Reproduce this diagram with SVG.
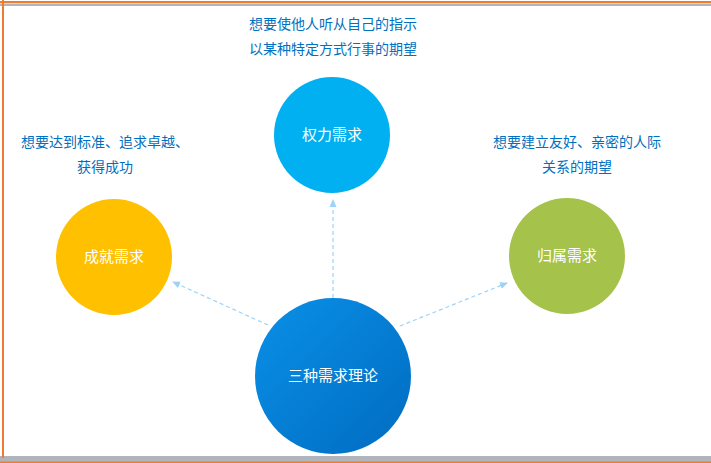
<svg xmlns="http://www.w3.org/2000/svg" width="711" height="463" viewBox="0 0 711 463">
<style>
.t{font-family:"Noto Sans CJK SC","Liberation Sans",sans-serif;font-size:14px;fill:#0070c0;text-anchor:middle}
.w{font-family:"Noto Sans CJK SC","Liberation Sans",sans-serif;font-size:15px;fill:#fff;text-anchor:middle}
.c{stroke:#9dd3f7;stroke-width:1.2;stroke-dasharray:4 3;fill:none;marker-end:url(#a)}
</style>
<defs>
<marker id="a" markerWidth="8" markerHeight="8" refX="7" refY="4" orient="auto" markerUnits="userSpaceOnUse"><path d="M0,0.5 L8,4 L0,7.5z" fill="#9dd3f7"/></marker>
<linearGradient id="g" x1="0" y1="0" x2="1" y2="1"><stop offset="0" stop-color="#0a90e8"/><stop offset="1" stop-color="#006cc0"/></linearGradient>
</defs>
<rect width="711" height="463" fill="#fff"/>
<rect x="0" y="3.5" width="711" height="2.5" fill="#b0b4bc"/>
<rect x="0" y="1" width="711" height="2" fill="#ef7d31"/>
<rect x="0" y="456" width="711" height="6" fill="#b0b4bc"/>
<rect x="0" y="461.5" width="711" height="1.5" fill="#ef7d31"/>
<rect x="2" y="0" width="2" height="458" fill="#ef7d31"/>
<g id="connectors">
<path class="c" d="M333,298 V200"/>
<path class="c" d="M268,325 L173,282"/>
<path class="c" d="M400,326 L507,283"/>
</g>
<g id="power"><circle cx="332" cy="135" r="58" fill="#00b0f0"/><text class="w" x="332" y="140">权力需求</text></g>
<g id="achieve"><circle cx="114" cy="257" r="58" fill="#ffc000"/><text class="w" x="114" y="262">成就需求</text></g>
<g id="belong"><circle cx="567" cy="256" r="58" fill="#a5c24a"/><text class="w" x="567" y="261">归属需求</text></g>
<g id="center"><circle cx="333" cy="376" r="78" fill="url(#g)"/><text class="w" x="333" y="381">三种需求理论</text></g>
<g id="labels">
<text class="t" x="333" y="29">想要使他人听从自己的指示</text>
<text class="t" x="333" y="54">以某种特定方式行事的期望</text>
<text class="t" x="105" y="147">想要达到标准、追求卓越、</text>
<text class="t" x="105" y="172">获得成功</text>
<text class="t" x="577" y="147">想要建立友好、亲密的人际</text>
<text class="t" x="577" y="172">关系的期望</text>
</g>
</svg>
